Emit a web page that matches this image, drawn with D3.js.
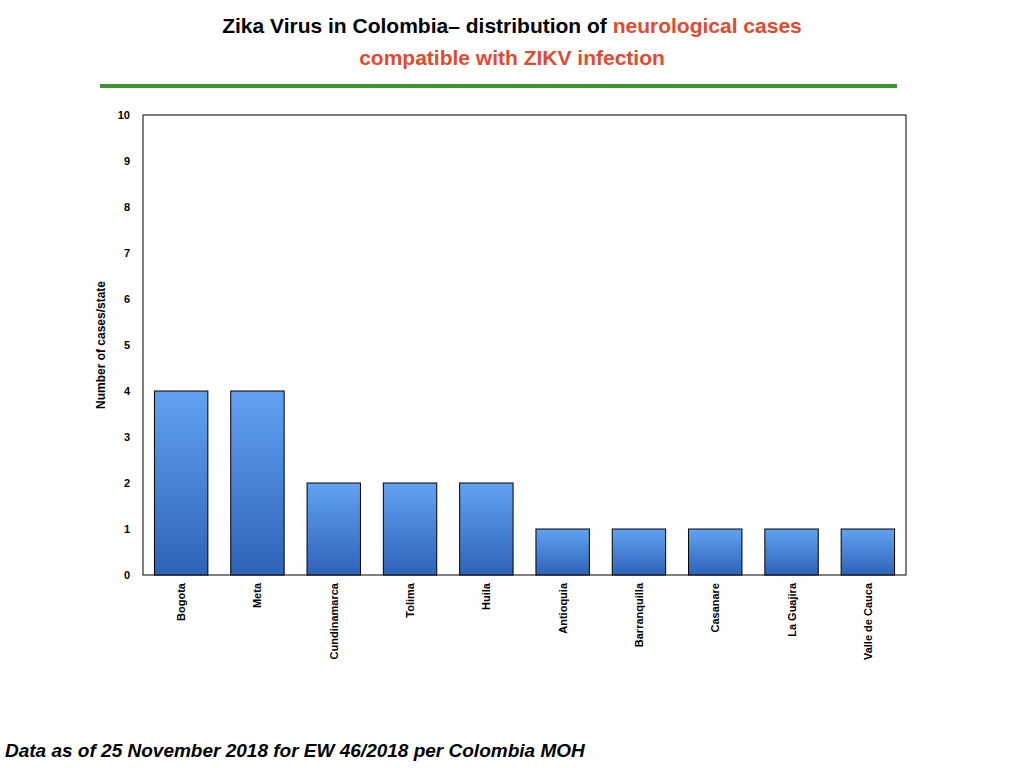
<!DOCTYPE html>
<html>
<head>
<meta charset="utf-8">
<script src="https://cdn.jsdelivr.net/npm/d3@7"></script>
<style>
  body { margin: 0; background: #fff; }
  svg { font-family: "Liberation Sans", Arial, sans-serif; }
</style>
</head>
<body>
<svg id="chart" width="1024" height="768"></svg>
<script>
var states = ["Bogota", "Meta", "Cundinamarca", "Tolima", "Huila", "Antioquia", "Barranquilla", "Casanare", "La Guajira", "Valle de Cauca"];
var cases = [4, 4, 2, 2, 2, 1, 1, 1, 1, 1];
var yTicks = [0, 1, 2, 3, 4, 5, 6, 7, 8, 9, 10];

var svg = d3.select("#chart");
var m = {left: 143, right: 906, top: 115, bottom: 575};

var grad = svg.append("defs").append("linearGradient")
  .attr("id", "bar").attr("x1", 0).attr("y1", 0).attr("x2", 0).attr("y2", 1);
grad.append("stop").attr("offset", "0%").attr("stop-color", "#62a2f2");
grad.append("stop").attr("offset", "100%").attr("stop-color", "#2d63b9");

// title
var t1 = svg.append("text").attr("x", 512).attr("y", 33).attr("text-anchor", "middle")
  .attr("font-size", 21).attr("font-weight", "bold");
t1.append("tspan").attr("fill", "#000").text("Zika Virus in Colombia–  distribution of ");
t1.append("tspan").attr("fill", "#e04b2f").text("neurological cases");
svg.append("text").attr("x", 512).attr("y", 65).attr("text-anchor", "middle")
  .attr("font-size", 21).attr("font-weight", "bold").attr("fill", "#e04b2f")
  .text("compatible with ZIKV infection");
svg.append("line").attr("x1", 100).attr("x2", 897).attr("y1", 86).attr("y2", 86)
  .attr("stroke", "#3a962a").attr("stroke-width", 4);

var x = d3.scaleBand().domain(states).range([m.left, m.right]).paddingInner(0.3).paddingOuter(0.15);
var y = d3.scaleLinear().domain([0, 10]).range([m.bottom, m.top]);

svg.append("rect").attr("x", m.left).attr("y", m.top)
  .attr("width", m.right - m.left).attr("height", m.bottom - m.top)
  .attr("fill", "none").attr("stroke", "#000").attr("stroke-width", 1);

var ya = svg.append("g").attr("transform", "translate(" + m.left + ",0)")
  .call(d3.axisLeft(y).tickValues(yTicks).tickSize(0).tickPadding(13).tickFormat(d3.format("d")));
ya.select(".domain").remove();
ya.selectAll("text").attr("font-size", 11).attr("font-weight", "bold")
  .attr("font-family", "Liberation Sans, Arial, sans-serif");

svg.append("text").attr("transform", "translate(105,345) rotate(-90)")
  .attr("text-anchor", "middle").attr("font-size", 12).attr("font-weight", "bold")
  .text("Number of cases/state");

svg.selectAll(".bar").data(states).enter().append("rect")
  .attr("x", function(d) { return x(d); })
  .attr("y", function(d, i) { return y(cases[i]); })
  .attr("width", x.bandwidth())
  .attr("height", function(d, i) { return y(0) - y(cases[i]); })
  .attr("fill", "url(#bar)").attr("stroke", "#000").attr("stroke-width", 1);

svg.selectAll(".xl").data(states).enter().append("text")
  .attr("transform", function(d) {
    return "translate(" + (x(d) + x.bandwidth() / 2 + 4) + "," + (m.bottom + 8) + ") rotate(-90)";
  })
  .attr("text-anchor", "end").attr("font-size", 11).attr("font-weight", "bold")
  .text(function(d) { return d; });

svg.append("text").attr("x", 5).attr("y", 757).attr("font-size", 19)
  .attr("font-weight", "bold").attr("font-style", "italic")
  .text("Data as of 25 November 2018 for EW 46/2018 per Colombia MOH");
</script>
</body>
</html>
